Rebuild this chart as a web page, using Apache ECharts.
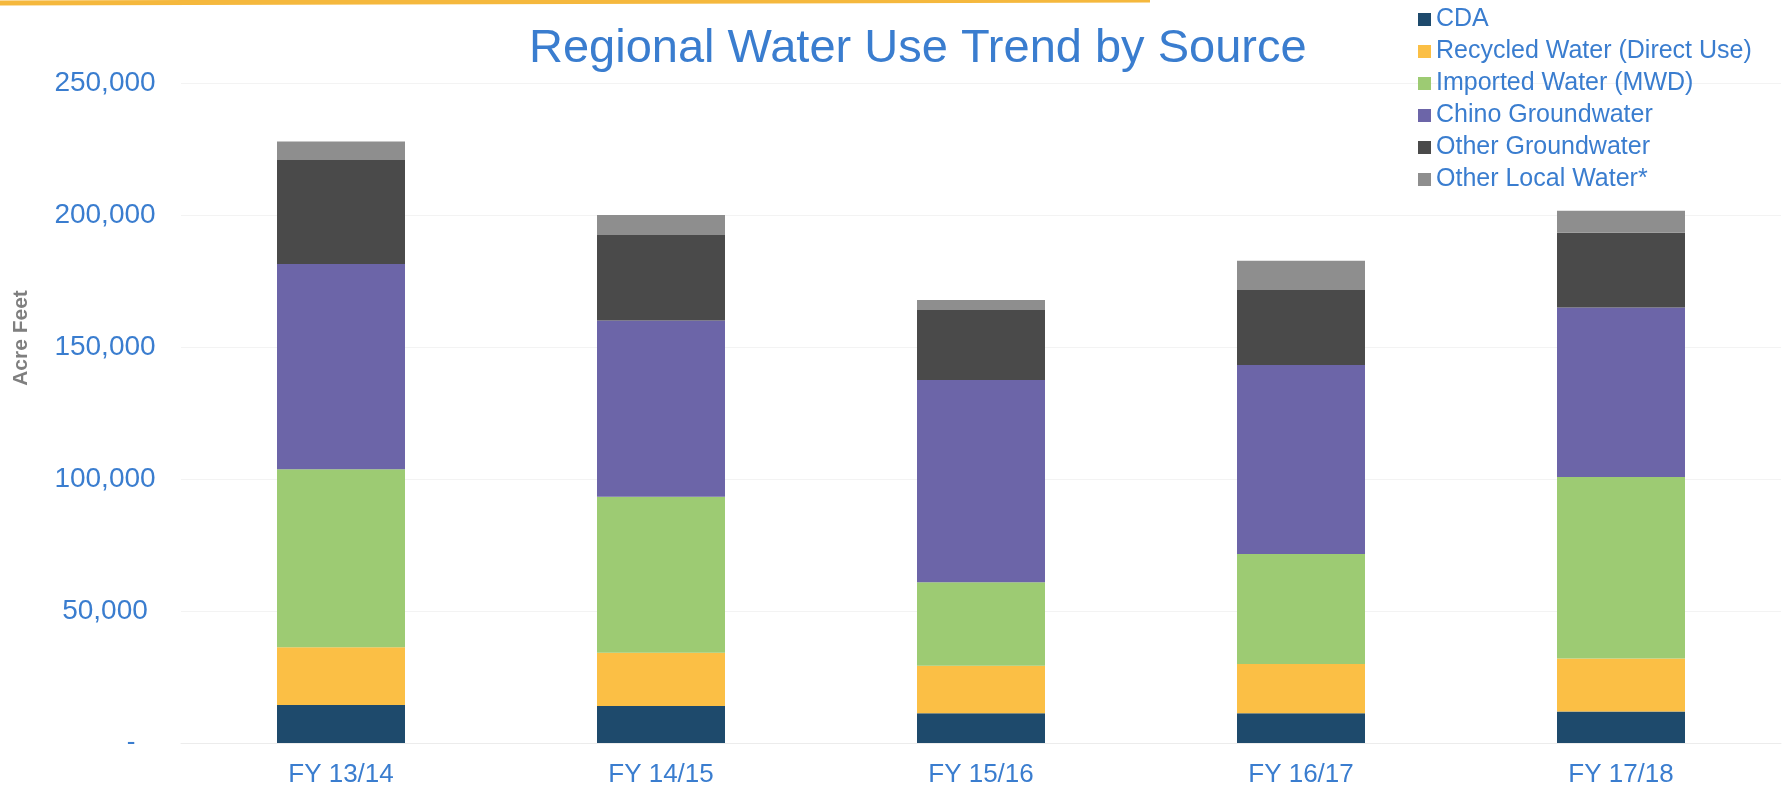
<!DOCTYPE html>
<html>
<head>
<meta charset="utf-8">
<script src="https://cdn.jsdelivr.net/npm/echarts@6/dist/echarts.min.js"></script>
<style>
html,body{margin:0;padding:0;background:#fff;}
#chart{width:1784px;height:791px;}
</style>
</head>
<body>
<div id="chart"></div>
<script>
var categories = ['FY 13/14', 'FY 14/15', 'FY 15/16', 'FY 16/17', 'FY 17/18'];
var seriesNames = ['CDA', 'Recycled Water (Direct Use)', 'Imported Water (MWD)', 'Chino Groundwater', 'Other Groundwater', 'Other Local Water*'];
var cda        = [14400, 14000, 11300, 11300, 11900];
var recycled   = [21900, 20200, 18000, 18600, 20100];
var imported   = [67400, 59100, 31600, 41700, 68800];
var chino      = [77700, 66700, 76600, 71600, 64200];
var otherGw    = [39400, 32400, 26500, 28400, 28300];
var otherLocal = [7000, 7600, 3800, 11100, 8300];
var colors = ['#1e4a6c', '#fbbf45', '#9dcb73', '#6c65a8', '#4a4a4a', '#8e8e8e'];

var seriesData = [cda, recycled, imported, chino, otherGw, otherLocal];
var blue = '#3a7dcf';
var ff = 'Liberation Sans, Arial, sans-serif';

var chart = echarts.init(document.getElementById('chart'));
chart.setOption({
  animation: false,
  backgroundColor: '#ffffff',
  title: {
    text: 'Regional Water Use Trend by Source',
    left: 524,
    top: 21,
    textStyle: { fontFamily: ff, fontSize: 47, fontWeight: 'normal', color: blue }
  },
  legend: {
    orient: 'vertical',
    left: 1413,
    top: 2,
    itemWidth: 13,
    itemHeight: 13,
    itemGap: 7,
    icon: 'rect',
    textStyle: { fontFamily: ff, fontSize: 25, color: blue },
    data: seriesNames
  },
  grid: { left: 181, right: 3, top: 83, bottom: 48 },
  xAxis: {
    type: 'category',
    data: categories,
    axisLine: { show: true, lineStyle: { color: '#ececec' } },
    axisTick: { show: false },
    axisLabel: { margin: 19, fontFamily: ff, fontSize: 26, color: blue }
  },
  yAxis: {
    type: 'value',
    min: 0,
    max: 250000,
    interval: 50000,
    name: 'Acre Feet',
    nameLocation: 'middle',
    nameRotate: 90,
    nameGap: 149,
    nameTextStyle: { fontFamily: ff, fontSize: 21, fontWeight: 'bold', color: '#7f7f7f', padding: [0, 0, 0, 150] },
    axisLine: { show: false },
    axisTick: { show: false },
    splitLine: { lineStyle: { color: '#f3f3f3' } },
    axisLabel: {
      margin: 76,
      align: 'center',
      fontFamily: ff,
      fontSize: 28,
      color: blue,
      formatter: function (v) {
        if (v === 0) return '{d|-}';
        return v.toLocaleString('en-US');
      },
      rich: { d: { padding: [0, 0, 0, 52], fontSize: 26, color: blue, fontFamily: ff } }
    }
  },
  graphic: [{
    type: 'bezierCurve',
    shape: { x1: 0, y1: 3, x2: 1150, y2: 0, cpx1: 400, cpy1: 4, cpx2: 800, cpy2: 1 },
    style: { stroke: '#f5b83d', lineWidth: 5, fill: null },
    silent: true
  }],
  series: seriesNames.map(function (name, i) {
    return {
      name: name,
      type: 'bar',
      stack: 'total',
      barWidth: '40%',
      itemStyle: { color: colors[i] },
      data: seriesData[i]
    };
  })
});
</script>
</body>
</html>
